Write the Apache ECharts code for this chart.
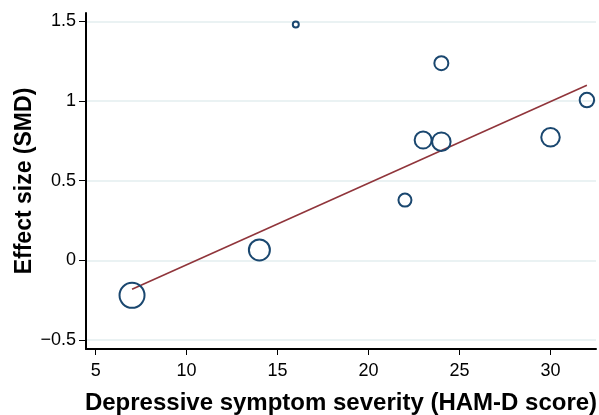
<!DOCTYPE html>
<html>
<head>
<meta charset="utf-8">
<script src="https://cdn.jsdelivr.net/npm/echarts@6/dist/echarts.min.js"></script>
<style>html,body{margin:0;padding:0;background:#fff;}#c{width:599px;height:415px;}</style>
</head>
<body>
<div id="c"></div>
<script>
// HAM-D score (x), effect size SMD (y), marker diameter (study weight)
var hamd = [7, 14, 16, 22, 23, 24, 24, 30, 32];
var smd = [-0.22, 0.065, 1.48, 0.378, 0.755, 0.745, 1.238, 0.772, 1.006];
var weight = [25, 21, 6, 13, 17, 18.5, 14, 18.5, 14.5];
// fitted regression line endpoints
var fitX = [7, 32];
var fitY = [-0.182, 1.099];
var xTicks = [5, 10, 15, 20, 25, 30];
var yTicks = [-0.5, 0, 0.5, 1, 1.5];

var pts = hamd.map(function (x, i) { return [x, smd[i], weight[i]]; });
var fit = fitX.map(function (x, i) { return [x, fitY[i]]; });

var chart = echarts.init(document.getElementById('c'), null, {renderer: 'canvas'});
var font = 'Liberation Sans, Arial, Helvetica, sans-serif';
chart.setOption({
  animation: false,
  grid: {left: 86, right: 3, top: 13, bottom: 66, containLabel: false, outerBoundsMode: 'none'},
  xAxis: {
    type: 'value', min: 4.47, max: 32.5,
    name: 'Depressive symptom severity (HAM-D score)',
    nameLocation: 'middle', nameGap: 42, nameMoveOverlap: false,
    nameTextStyle: {fontFamily: font, fontSize: 24, fontWeight: 'bold', color: '#000'},
    axisLine: {show: true, onZero: false, lineStyle: {color: '#000', width: 2}},
    axisTick: {show: true, length: 6, customValues: xTicks, lineStyle: {color: '#000', width: 1}},
    axisLabel: {customValues: xTicks, margin: 13, fontFamily: font, fontSize: 18, color: '#000'},
    splitLine: {show: false}
  },
  yAxis: {
    type: 'value', min: -0.557, max: 1.553,
    name: 'Effect size (SMD)',
    nameLocation: 'middle', nameGap: 50, nameMoveOverlap: false,
    nameTextStyle: {fontFamily: font, fontSize: 23, fontWeight: 'bold', color: '#000'},
    axisLine: {show: true, onZero: false, lineStyle: {color: '#000', width: 2}},
    axisTick: {show: true, length: 7, customValues: yTicks, lineStyle: {color: '#000', width: 1}},
    axisLabel: {customValues: yTicks, margin: 10, fontFamily: font, fontSize: 18, color: '#000',
      formatter: function (v) { return v < 0 ? '\u2212' + Math.abs(v) : String(v); }},
    splitLine: {show: true, lineStyle: {color: '#eaf2f3', width: 2}}
  },
  series: [
    {
      type: 'line', data: fit, symbol: 'none', z: 3,
      lineStyle: {color: '#90353b', width: 1.6}
    },
    {
      type: 'scatter', data: pts, z: 4,
      symbolSize: function (d) { return d[2]; },
      itemStyle: {color: 'rgba(255,255,255,0)', borderColor: '#1a476f', borderWidth: 2, opacity: 1}
    }
  ]
});
</script>
</body>
</html>
